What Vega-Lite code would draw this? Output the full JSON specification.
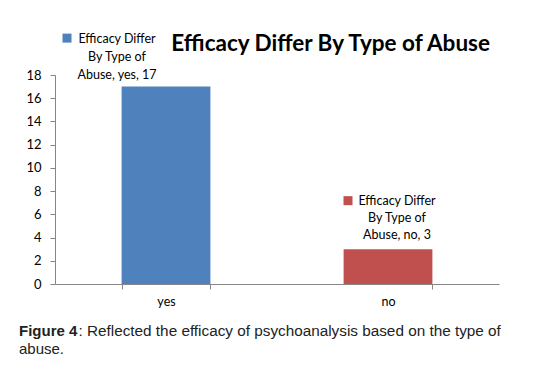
{
  "$schema": "https://vega.github.io/schema/vega-lite/v6.json",
  "background": "white",
  "padding": {"left": 19, "top": 32, "right": 5, "bottom": 5},
  "config": {"font": "Lato", "view": {"stroke": null}, "concat": {"spacing": 14}},
  "vconcat": [
    {
      "width": 444,
      "height": 209,
      "title": {"text": "Efficacy Differ By Type of Abuse", "font": "Lato", "fontSize": 22.5, "fontWeight": "bold", "color": "black", "anchor": "end", "frame": "group", "dx": -9, "offset": -22.7},
      "data": {"values": [
        {"response": "yes", "count": 17, "label": ["Efficacy Differ", "By Type of", "Abuse, yes, 17"]},
        {"response": "no", "count": 3, "label": ["Efficacy Differ", "By Type of", "Abuse, no, 3"]}
      ]},
      "encoding": {
        "x": {"field": "response", "type": "nominal", "sort": null,
          "scale": {"paddingInner": 0.6, "paddingOuter": 0.3},
          "axis": {"title": null, "labelAngle": 0, "tickBand": "extent", "tickSize": 5, "domainColor": "#868686", "tickColor": "#868686", "labelFont": "Lato", "labelFontSize": 12.5, "labelColor": "black", "labelPadding": 6}},
        "y": {"field": "count", "type": "quantitative",
          "scale": {"domain": [0, 18], "nice": false},
          "axis": {"title": null, "values": [0, 2, 4, 6, 8, 10, 12, 14, 16, 18], "grid": false, "tickSize": 5, "domainColor": "#868686", "tickColor": "#868686", "labelFont": "Lato", "labelFontSize": 13, "labelColor": "black", "labelPadding": 9}}
      },
      "layer": [
        {
          "mark": {"type": "bar"},
          "encoding": {
            "color": {"field": "response", "type": "nominal", "scale": {"domain": ["yes", "no"], "range": ["#4F81BD", "#C0504D"]}, "legend": null}
          }
        },
        {
          "transform": [{"filter": "datum.response == 'yes'"}],
          "mark": {"type": "text", "font": "Lato", "fontSize": 12.5, "color": "black", "align": "center", "baseline": "top", "lineHeight": 18, "dx": -49, "dy": -54},
          "encoding": {"text": {"field": "label", "type": "nominal"}}
        },
        {
          "transform": [{"filter": "datum.response == 'no'"}],
          "mark": {"type": "text", "font": "Lato", "fontSize": 12.5, "color": "black", "align": "center", "baseline": "top", "lineHeight": 17, "dx": 9, "dy": -54},
          "encoding": {"text": {"field": "label", "type": "nominal"}}
        },
        {
          "transform": [{"filter": "datum.response == 'yes'"}],
          "mark": {"type": "point", "shape": "M -23 -11.78 L -21 -11.78 L -21 -9.78 L -23 -9.78 Z", "filled": true, "size": 81, "opacity": 1},
          "encoding": {"color": {"field": "response", "type": "nominal", "legend": null}}
        },
        {
          "transform": [{"filter": "datum.response == 'no'"}],
          "mark": {"type": "point", "shape": "M -9.89 -11.78 L -7.89 -11.78 L -7.89 -9.78 L -9.89 -9.78 Z", "filled": true, "size": 81, "opacity": 1},
          "encoding": {"color": {"field": "response", "type": "nominal", "legend": null}}
        }
      ]
    },
    {
      "width": 444,
      "height": 36,
      "data": {"values": [
        {"part": "bold", "text": "Figure 4"},
        {"part": "rest", "text": ": Reflected the efficacy of psychoanalysis based on the type of"},
        {"part": "line2", "text": "abuse."}
      ]},
      "encoding": {
        "x": {"datum": 0, "type": "quantitative", "scale": {"domain": [0, 1]}, "axis": null},
        "text": {"field": "text", "type": "nominal"}
      },
      "layer": [
        {
          "transform": [{"filter": "datum.part == 'bold'"}],
          "mark": {"type": "text", "font": "Liberation Sans", "fontSize": 15, "fontWeight": "bold", "color": "#222", "align": "left", "baseline": "middle", "dx": -36},
          "encoding": {"y": {"datum": 0, "type": "quantitative", "scale": {"domain": [-0.5, 1.5], "reverse": true}, "axis": null}}
        },
        {
          "transform": [{"filter": "datum.part == 'rest'"}],
          "mark": {"type": "text", "font": "Liberation Sans", "fontSize": 15.3, "color": "#222", "align": "left", "baseline": "middle", "dx": 23.5},
          "encoding": {"y": {"datum": 0, "type": "quantitative", "scale": {"domain": [-0.5, 1.5], "reverse": true}, "axis": null}}
        },
        {
          "transform": [{"filter": "datum.part == 'line2'"}],
          "mark": {"type": "text", "font": "Liberation Sans", "fontSize": 15, "color": "#222", "align": "left", "baseline": "middle", "dx": -36},
          "encoding": {"y": {"datum": 1, "type": "quantitative", "scale": {"domain": [-0.5, 1.5], "reverse": true}, "axis": null}}
        }
      ]
    }
  ]
}
